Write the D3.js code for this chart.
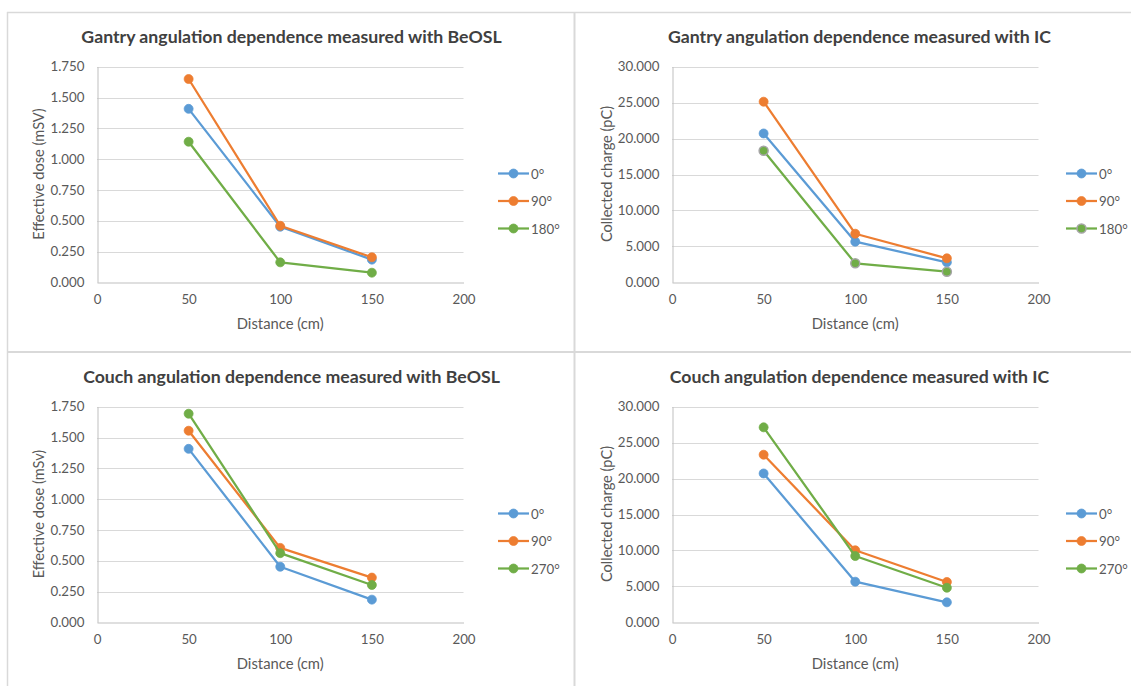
<!DOCTYPE html>
<html>
<head>
<meta charset="utf-8">
<script src="https://cdn.jsdelivr.net/npm/d3@7"></script>
<style>
  html, body { margin: 0; padding: 0; background: #ffffff; }
  svg { display: block; }
  text { font-family: Lato, "Open Sans", sans-serif; }
</style>
</head>
<body>
<svg id="chart" width="1131" height="686"></svg>
<script>
// Source-to-detector distances (cm)
const distance = [50, 100, 150];
const xTicks = [0, 50, 100, 150, 200];

// Angulation labels
const gantryAngles = ["0°", "90°", "180°"];
const couchAngles = ["0°", "90°", "270°"];

// Effective dose (mSv), BeOSL dosimeters
const beoslRef0 = [1.408, 0.451, 0.184];
const beoslGantry90 = [1.650, 0.459, 0.203];
const beoslGantry180 = [1.141, 0.162, 0.078];
const beoslCouch90 = [1.555, 0.604, 0.363];
const beoslCouch270 = [1.693, 0.561, 0.303];
const doseTicks = [0, 0.25, 0.5, 0.75, 1.0, 1.25, 1.5, 1.75];

// Collected charge (pC), ionisation chamber
const icRef0 = [20.71, 5.65, 2.78];
const icGantry90 = [25.13, 6.76, 3.34];
const icGantry180 = [18.31, 2.64, 1.48];
const icCouch90 = [23.32, 10.02, 5.61];
const icCouch270 = [27.13, 9.22, 4.81];
const chargeTicks = [0, 5, 10, 15, 20, 25, 30];

const palette = ["#5B9BD5", "#ED7D31", "#70AD47"];

const panels = [
  { ox: 7, oy: 12, plotLeft: 90, title: "Gantry angulation dependence measured with BeOSL",
    yTitle: "Effective dose (mSV)", angles: gantryAngles, yTicks: doseTicks, yMax: 1.75,
    series: [beoslRef0, beoslGantry90, beoslGantry180], markerStroke: [null, null, null] },
  { ox: 575, oy: 12, plotLeft: 97, title: "Gantry angulation dependence measured with IC",
    yTitle: "Collected charge (pC)", angles: gantryAngles, yTicks: chargeTicks, yMax: 30,
    series: [icRef0, icGantry90, icGantry180], markerStroke: [null, null, "#A5A5A5"] },
  { ox: 7, oy: 352, plotLeft: 90, title: "Couch angulation dependence measured with BeOSL",
    yTitle: "Effective dose (mSv)", angles: couchAngles, yTicks: doseTicks, yMax: 1.75,
    series: [beoslRef0, beoslCouch90, beoslCouch270], markerStroke: [null, null, null] },
  { ox: 575, oy: 352, plotLeft: 97, title: "Couch angulation dependence measured with IC",
    yTitle: "Collected charge (pC)", angles: couchAngles, yTicks: chargeTicks, yMax: 30,
    series: [icRef0, icCouch90, icCouch270], markerStroke: [null, null, null] }
];

const svg = d3.select("#chart");

// Chart frame borders
const border = "#D9D9D9";
svg.append("line").attr("x1", 7.5).attr("x2", 7.5).attr("y1", 12).attr("y2", 686)
  .attr("stroke", border).attr("stroke-width", 1.5);
svg.append("line").attr("x1", 7).attr("x2", 1131).attr("y1", 12.5).attr("y2", 12.5)
  .attr("stroke", border).attr("stroke-width", 1.5);
svg.append("line").attr("x1", 574.5).attr("x2", 574.5).attr("y1", 12).attr("y2", 686)
  .attr("stroke", border).attr("stroke-width", 2);
svg.append("line").attr("x1", 7).attr("x2", 1131).attr("y1", 352).attr("y2", 352)
  .attr("stroke", border).attr("stroke-width", 2);

const fmt = d3.format(".3f");

panels.forEach(p => {
  const g = svg.append("g").attr("transform", `translate(${p.ox},${p.oy})`);
  const plotRight = p.plotLeft + 366.5;
  const plotTop = 54.7, plotBottom = 270.3;

  const x = d3.scaleLinear().domain([0, 200]).range([p.plotLeft, plotRight]);
  const y = d3.scaleLinear().domain([0, p.yMax]).range([plotBottom, plotTop]);

  // Title
  g.append("text").attr("x", 284.5).attr("y", 24.5)
    .attr("text-anchor", "middle").attr("dominant-baseline", "central")
    .attr("font-size", 17.7).attr("font-weight", "bold").attr("fill", "#404040")
    .text(p.title);

  // Horizontal gridlines
  g.append("g").selectAll("line").data(p.yTicks.slice(1)).join("line")
    .attr("x1", p.plotLeft).attr("x2", plotRight)
    .attr("y1", d => Math.round(y(d)) + 0.5).attr("y2", d => Math.round(y(d)) + 0.5)
    .attr("stroke", "#D9D9D9").attr("stroke-width", 1);

  // Axes
  const yAxis = d3.axisLeft(y).tickValues(p.yTicks).tickFormat(fmt).tickSize(0).tickPadding(13);
  const xAxis = d3.axisBottom(x).tickValues(xTicks).tickFormat(d3.format("d")).tickSize(0).tickPadding(12);

  const ya = g.append("g").attr("transform", `translate(${Math.round(p.plotLeft) + 0.5},0)`).call(yAxis);
  const xa = g.append("g").attr("transform", `translate(0,${Math.round(plotBottom) + 0.5})`).call(xAxis);
  [ya, xa].forEach(a => {
    a.select(".domain").attr("stroke", "#BFBFBF").attr("stroke-width", 1);
    a.selectAll("text").attr("font-family", "Lato, sans-serif").attr("font-size", 13.3).attr("fill", "#595959");
  });

  // Axis titles
  g.append("text").attr("x", (p.plotLeft + plotRight) / 2).attr("y", 311)
    .attr("text-anchor", "middle").attr("dominant-baseline", "central")
    .attr("font-size", 14.8).attr("fill", "#595959").text("Distance (cm)");
  g.append("text")
    .attr("transform", `translate(31,162) rotate(-90)`)
    .attr("text-anchor", "middle").attr("dominant-baseline", "central")
    .attr("font-size", 14.6).attr("fill", "#595959").text(p.yTitle);

  // Series lines and markers
  const line = d3.line().x((d, i) => x(distance[i])).y(d => y(d));
  p.series.forEach((vals, si) => {
    g.append("path").datum(vals).attr("d", line)
      .attr("fill", "none").attr("stroke", palette[si]).attr("stroke-width", 2.25)
      .attr("stroke-linejoin", "round");
    g.append("g").selectAll("circle").data(vals).join("circle")
      .attr("cx", (d, i) => x(distance[i])).attr("cy", d => y(d)).attr("r", 4.5)
      .attr("fill", palette[si])
      .attr("stroke", p.markerStroke[si] || palette[si]).attr("stroke-width", p.markerStroke[si] ? 1.5 : 0.75);
  });

  // Legend
  const leg = g.append("g");
  p.angles.forEach((a, si) => {
    const ly = 161.5 + si * 27.5;
    leg.append("line").attr("x1", 491).attr("x2", 522).attr("y1", ly).attr("y2", ly)
      .attr("stroke", palette[si]).attr("stroke-width", 2.25);
    leg.append("circle").attr("cx", 506.5).attr("cy", ly).attr("r", 4.5)
      .attr("fill", palette[si])
      .attr("stroke", p.markerStroke[si] || palette[si]).attr("stroke-width", p.markerStroke[si] ? 1.5 : 0.75);
    leg.append("text").attr("x", 524).attr("y", ly)
      .attr("dominant-baseline", "central").attr("font-size", 13.3)
      .attr("fill", "#595959").text(a);
  });
});
</script>
</body>
</html>
